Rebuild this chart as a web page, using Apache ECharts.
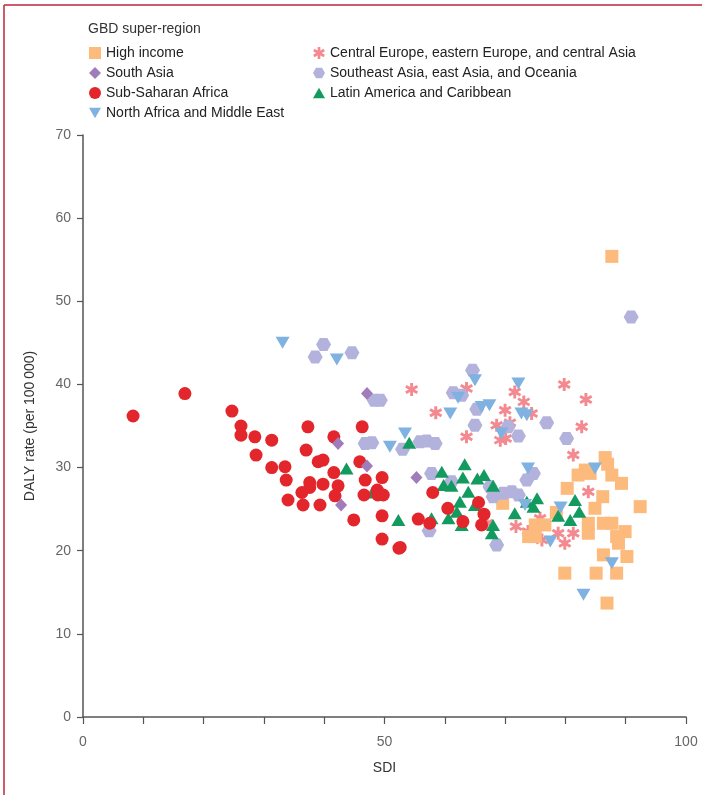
<!DOCTYPE html>
<html>
<head>
<meta charset="utf-8">
<script src="https://cdn.jsdelivr.net/npm/echarts@6/dist/echarts.min.js"></script>
<style>
html,body{margin:0;padding:0;background:#fff;}
#chart{width:702px;height:795px;}
</style>
</head>
<body>
<div id="chart"></div>
<script>
// Series names (legend order)
const seriesNames = [
  'High income',
  'South Asia',
  'Sub-Saharan Africa',
  'North Africa and Middle East',
  'Central Europe, eastern Europe, and central Asia',
  'Southeast Asia, east Asia, and Oceania',
  'Latin America and Caribbean'
];

// [SDI, DALY rate]
const highIncome = [
  [87.7,55.4],[86.6,31.2],[87.0,30.4],[83.3,29.7],[84.1,29.3],[82.1,29.1],[87.7,29.1],[89.3,28.1],
  [80.3,27.5],[86.2,26.5],[92.4,25.3],[84.9,25.1],[83.8,23.3],[86.3,23.3],[87.7,23.3],[89.9,22.3],
  [88.5,21.7],[88.8,20.9],[83.8,22.1],[75.0,23.1],[76.6,23.1],[73.9,21.7],[75.0,21.7],[86.3,19.5],
  [90.2,19.3],[79.9,17.3],[85.1,17.3],[88.5,17.3],[86.9,13.7],[69.6,25.7],[78.5,24.6]
];
const southAsia = [
  [47.1,38.9],[42.3,32.9],[47.1,30.2],[55.3,28.8],[42.8,25.5]
];
const subSaharan = [
  [8.3,36.2],[16.9,38.9],[24.7,36.8],[26.2,35.0],[26.2,33.9],[28.5,33.7],[31.3,33.3],[28.7,31.5],
  [31.3,30.0],[33.5,30.1],[33.7,28.5],[34.0,26.1],[37.3,34.9],[37.0,32.1],[39.0,30.7],[39.8,30.9],
  [37.6,28.2],[37.6,27.6],[36.3,27.0],[36.5,25.5],[39.3,25.5],[39.8,28.0],[41.6,33.7],[41.6,29.4],
  [42.3,27.8],[41.8,26.6],[44.9,23.7],[46.3,34.9],[45.9,30.7],[46.8,28.5],[46.6,26.7],[48.8,27.3],
  [48.9,26.7],[49.8,26.7],[49.6,28.8],[49.6,24.2],[49.6,21.4],[52.4,20.3],[55.6,23.8],[57.5,23.3],
  [58.0,27.0],[60.5,25.1],[63.0,23.5],[65.6,25.8],[66.5,24.4],[66.1,23.1],[52.6,20.4]
];
const northAfricaME = [
  [33.1,45.0],[42.1,43.0],[53.4,34.1],[50.9,32.5],[60.9,36.5],[62.2,38.4],[65.0,40.5],[66.1,37.3],
  [67.4,37.5],[72.2,40.1],[72.7,36.5],[73.6,36.3],[69.4,34.1],[73.8,29.9],[73.3,25.5],[79.2,25.2],
  [77.5,21.1],[84.9,29.9],[87.7,18.5],[83.0,14.7]
];
const centralEurope = [
  [54.5,39.4],[58.5,36.6],[63.6,39.5],[63.6,33.7],[70.0,36.9],[71.6,39.1],[73.1,37.9],[74.4,36.5],
  [68.6,35.1],[70.8,35.4],[69.2,33.3],[70.1,33.5],[79.8,40.0],[83.4,38.2],[82.7,34.9],[81.3,31.5],
  [83.8,27.1],[75.8,23.9],[78.8,22.1],[81.3,22.1],[79.9,20.9],[71.8,22.9],[73.8,22.3],[76.1,21.3],
  [67.0,23.3]
];
const southeastAsia = [
  [39.9,44.8],[38.5,43.3],[44.6,43.8],[48.3,38.1],[49.3,38.1],[46.8,32.9],[47.9,33.0],[53.0,32.2],
  [55.9,33.1],[57.0,33.2],[58.4,32.9],[57.8,29.3],[57.4,22.4],[61.4,39.0],[62.8,38.7],[64.6,41.7],
  [65.3,37.0],[65.0,35.1],[70.5,34.9],[72.2,33.8],[76.9,35.4],[80.2,33.5],[61.1,28.3],[67.5,27.7],
  [68.0,26.5],[69.7,26.9],[71.1,27.1],[72.2,26.7],[73.6,28.5],[74.7,29.3],[68.6,20.7],[90.9,48.1]
];
const latinAmerica = [
  [43.7,29.9],[54.1,33.0],[52.3,23.7],[48.0,27.0],[59.5,29.5],[63.3,30.4],[63.0,28.8],[59.8,27.9],
  [61.1,27.8],[65.4,28.7],[66.5,29.1],[68.0,27.8],[63.9,27.1],[62.5,25.9],[62.0,24.7],[60.6,23.9],
  [57.8,23.9],[62.8,23.1],[65.0,25.5],[68.0,23.1],[67.8,22.1],[71.6,24.5],[73.6,25.9],[74.7,25.3],
  [75.3,26.3],[81.6,26.1],[78.8,24.2],[80.8,23.7],[82.3,24.7]
];

const colors = {
  hi: '#FDBA7D', sa: '#A07CBB', ssa: '#E2262B', name: '#7FB2E1',
  ce: '#F48A90', seao: '#B2B2DD', lac: '#139A5E'
};

const hexPath = 'path://M-1,0 L-0.5,-0.866 L0.5,-0.866 L1,0 L0.5,0.866 L-0.5,0.866 Z';
const downTri = 'path://M0,0 L2,0 L1,1.732 Z';
const upTri = 'path://M1,0 L2,1.732 L0,1.732 Z';
const asterisk = 'path://M-0.22,-1 L0.22,-1 L0.22,1 L-0.22,1 Z M0.756,-0.690 L0.976,-0.310 L-0.756,0.690 L-0.976,0.310 Z M0.976,0.310 L0.756,0.690 L-0.976,-0.310 L-0.756,-0.690 Z';

function sc(name, data, symbol, size, color) {
  return {
    name: name, type: 'scatter', data: data, symbol: symbol, symbolSize: size,
    itemStyle: { color: color, opacity: 1 },
    emphasis: { disabled: true }
  };
}

const chart = echarts.init(document.getElementById('chart'), null, { renderer: 'canvas' });
const font = 'Liberation Sans, Arial, sans-serif';

chart.setOption({
  animation: false,
  textStyle: { fontFamily: font },
  title: {
    text: 'GBD super-region', left: 83, top: 17,
    textStyle: { fontSize: 14, fontWeight: 'normal', color: '#333', fontFamily: font }
  },
  legend: [
    {
      left: 84, top: 41, orient: 'vertical', itemGap: 6, itemWidth: 12, itemHeight: 12,
      data: [seriesNames[0], seriesNames[1], seriesNames[2], seriesNames[3]],
      textStyle: { fontSize: 14, color: '#222', lineHeight: 14, fontFamily: font },
      selectedMode: false
    },
    {
      left: 308, top: 41, orient: 'vertical', itemGap: 6, itemWidth: 12, itemHeight: 12,
      data: [seriesNames[4], seriesNames[5], seriesNames[6]],
      textStyle: { fontSize: 14, color: '#222', lineHeight: 14, fontFamily: font },
      selectedMode: false
    }
  ],
  grid: { left: 83, right: 16, top: 135, bottom: 78, containLabel: false },
  xAxis: {
    type: 'value', min: 0, max: 100, interval: 10,
    name: 'SDI', nameLocation: 'middle', nameGap: 44,
    nameTextStyle: { fontSize: 14, color: '#333' },
    axisLine: { show: true, lineStyle: { color: '#555', width: 1.5 } },
    axisTick: { show: true, length: 7, lineStyle: { color: '#555', width: 1.2 } },
    axisLabel: { fontSize: 14, color: '#666', margin: 18,
      formatter: function (v) { return (v % 50 === 0) ? String(v) : ''; } },
    splitLine: { show: false }
  },
  yAxis: {
    type: 'value', min: 0, max: 70, interval: 10,
    name: 'DALY rate (per 100\u2009000)', nameLocation: 'middle', nameGap: 46,
    nameTextStyle: { fontSize: 14, color: '#333' },
    axisLine: { show: true, lineStyle: { color: '#555', width: 1.5 } },
    axisTick: { show: true, length: 6, lineStyle: { color: '#555', width: 1.2 } },
    axisLabel: { fontSize: 14, color: '#666', margin: 12 },
    splitLine: { show: false }
  },
  graphic: [
    { type: 'line', shape: { x1: 4, y1: 5, x2: 702, y2: 5 }, style: { stroke: '#C0243C', lineWidth: 1.5 } },
    { type: 'line', shape: { x1: 4, y1: 5, x2: 4, y2: 795 }, style: { stroke: '#C0243C', lineWidth: 1.5 } }
  ],
  series: [
    sc(seriesNames[4], centralEurope, asterisk, [13, 13], colors.ce),
    sc(seriesNames[0], highIncome, 'rect', 13, colors.hi),
    sc(seriesNames[5], southeastAsia, hexPath, [15, 13], colors.seao),
    sc(seriesNames[6], latinAmerica, upTri, [14, 12], colors.lac),
    sc(seriesNames[2], subSaharan, 'circle', 13, colors.ssa),
    sc(seriesNames[1], southAsia, 'diamond', [12, 13], colors.sa),
    sc(seriesNames[3], northAfricaME, downTri, [14, 12], colors.name)
  ]
});
</script>
</body>
</html>
